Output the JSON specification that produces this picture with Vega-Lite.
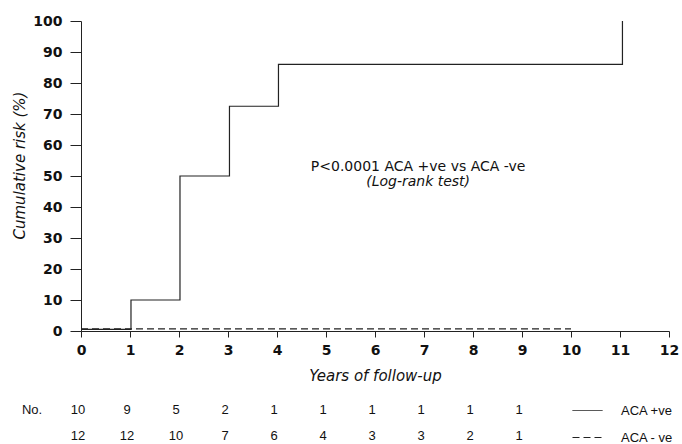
{
  "$schema": "https://vega.github.io/schema/vega-lite/v6.json",
  "width": 588,
  "height": 310,
  "autosize": {"type": "none"},
  "padding": {"left": 81, "top": 21, "right": 13, "bottom": 113},
  "background": "white",
  "config": {
    "view": {"stroke": null},
    "font": "DejaVu Sans",
    "axis": {
      "grid": false,
      "domainColor": "#222",
      "tickColor": "#222",
      "labelColor": "#111",
      "labelFont": "DejaVu Sans",
      "labelFontWeight": "bold",
      "labelFontSize": 14,
      "labelFlush": false,
      "labelOverlap": false,
      "titleFont": "DejaVu Sans",
      "titleFontStyle": "italic",
      "titleFontWeight": "normal",
      "titleFontSize": 15,
      "titleColor": "#111"
    }
  },
  "datasets": {
    "curves": [
      {"group": "ACA +ve", "years": 0, "risk": 0.5},
      {"group": "ACA +ve", "years": 1.02, "risk": 10},
      {"group": "ACA +ve", "years": 2.02, "risk": 50},
      {"group": "ACA +ve", "years": 3.03, "risk": 72.5},
      {"group": "ACA +ve", "years": 4.03, "risk": 86},
      {"group": "ACA +ve", "years": 11.05, "risk": 100},
      {"group": "ACA - ve", "years": 0, "risk": 0.7},
      {"group": "ACA - ve", "years": 10, "risk": 0.7}
    ],
    "atrisk": [
      {"group": "ACA +ve", "year": 0, "n": "10"},
      {"group": "ACA +ve", "year": 1, "n": "9"},
      {"group": "ACA +ve", "year": 2, "n": "5"},
      {"group": "ACA +ve", "year": 3, "n": "2"},
      {"group": "ACA +ve", "year": 4, "n": "1"},
      {"group": "ACA +ve", "year": 5, "n": "1"},
      {"group": "ACA +ve", "year": 6, "n": "1"},
      {"group": "ACA +ve", "year": 7, "n": "1"},
      {"group": "ACA +ve", "year": 8, "n": "1"},
      {"group": "ACA +ve", "year": 9, "n": "1"},
      {"group": "ACA - ve", "year": 0, "n": "12"},
      {"group": "ACA - ve", "year": 1, "n": "12"},
      {"group": "ACA - ve", "year": 2, "n": "10"},
      {"group": "ACA - ve", "year": 3, "n": "7"},
      {"group": "ACA - ve", "year": 4, "n": "6"},
      {"group": "ACA - ve", "year": 5, "n": "4"},
      {"group": "ACA - ve", "year": 6, "n": "3"},
      {"group": "ACA - ve", "year": 7, "n": "3"},
      {"group": "ACA - ve", "year": 8, "n": "2"},
      {"group": "ACA - ve", "year": 9, "n": "1"}
    ],
    "note": [{}]
  },
  "layer": [
    {
      "layer": [
        {
          "data": {"name": "curves"},
          "mark": {"type": "line", "interpolate": "step-after", "strokeWidth": 1.2, "color": "#222"},
          "encoding": {
            "x": {
              "field": "years", "type": "quantitative",
              "scale": {"domain": [0, 12], "nice": false},
              "axis": {
                "values": [0,1,2,3,4,5,6,7,8,9,10,11,12],
                "tickSize": 6,
                "labelPadding": 6,
                "title": "Years of follow-up",
                "titleY": 44,
                "titleBaseline": "middle"
              }
            },
            "y": {
              "field": "risk", "type": "quantitative",
              "scale": {"domain": [0, 100], "nice": false},
              "axis": {
                "values": [0,10,20,30,40,50,60,70,80,90,100],
                "tickSize": 11,
                "labelPadding": 8,
                "title": "Cumulative risk (%)",
                "titleX": -62,
                "titleY": 144,
                "titleAlign": "center",
                "titleBaseline": "middle"
              }
            },
            "strokeDash": {
              "field": "group", "type": "nominal",
              "scale": {"domain": ["ACA +ve", "ACA - ve"], "range": [[1, 0], [7, 4]]},
              "legend": {
                "orient": "none",
                "legendX": 491,
                "legendY": 374,
                "title": null,
                "symbolType": "stroke",
                "symbolSize": 900,
                "symbolStrokeWidth": 1,
                "symbolStrokeColor": "#222",
                "labelFont": "Liberation Sans",
                "labelFontSize": 13,
                "labelColor": "#111",
                "labelOffset": 18,
                "rowPadding": 4,
                "padding": 0
              }
            }
          }
        },
        {
          "data": {"name": "note"},
          "mark": {"type": "text", "font": "DejaVu Sans", "fontSize": 14, "color": "#111", "align": "center", "baseline": "middle", "text": "P<0.0001 ACA +ve vs ACA -ve"},
          "encoding": {
            "x": {"datum": 6.88, "type": "quantitative", "scale": {"domain": [0, 12], "nice": false},
              "axis": {"values": [0,1,2,3,4,5,6,7,8,9,10,11,12], "tickSize": 6, "labelPadding": 6, "title": "Years of follow-up", "titleY": 44, "titleBaseline": "middle"}},
            "y": {"datum": 53, "type": "quantitative", "scale": {"domain": [0, 100], "nice": false},
              "axis": {"values": [0,10,20,30,40,50,60,70,80,90,100], "tickSize": 11, "labelPadding": 8, "title": "Cumulative risk (%)", "titleX": -62, "titleY": 144, "titleAlign": "center", "titleBaseline": "middle"}}
          }
        },
        {
          "data": {"name": "note"},
          "mark": {"type": "text", "font": "DejaVu Sans", "fontSize": 14, "fontStyle": "italic", "color": "#111", "align": "center", "baseline": "middle", "text": "(Log-rank test)"},
          "encoding": {
            "x": {"datum": 6.88, "type": "quantitative", "scale": {"domain": [0, 12], "nice": false},
              "axis": {"values": [0,1,2,3,4,5,6,7,8,9,10,11,12], "tickSize": 6, "labelPadding": 6, "title": "Years of follow-up", "titleY": 44, "titleBaseline": "middle"}},
            "y": {"datum": 48, "type": "quantitative", "scale": {"domain": [0, 100], "nice": false},
              "axis": {"values": [0,10,20,30,40,50,60,70,80,90,100], "tickSize": 11, "labelPadding": 8, "title": "Cumulative risk (%)", "titleX": -62, "titleY": 144, "titleAlign": "center", "titleBaseline": "middle"}}
          }
        }
      ]
    },
    {
      "layer": [
        {
          "data": {"name": "atrisk"},
          "mark": {"type": "text", "font": "Liberation Sans", "fontSize": 13, "color": "#111", "align": "center", "baseline": "middle", "dx": -3},
          "encoding": {
            "x": {"field": "year", "type": "quantitative", "scale": {"domain": [0, 12], "nice": false}},
            "y": {"field": "group", "type": "nominal", "scale": {"type": "point", "domain": ["ACA +ve", "ACA - ve"], "range": [389, 415], "padding": 0}, "axis": null},
            "text": {"field": "n", "type": "nominal"}
          }
        },
        {
          "data": {"name": "note"},
          "mark": {"type": "text", "font": "Liberation Sans", "fontSize": 13, "color": "#111", "align": "center", "baseline": "middle", "text": "No."},
          "encoding": {
            "x": {"datum": -1, "type": "quantitative", "scale": {"domain": [0, 12], "nice": false}},
            "y": {"datum": "ACA +ve", "type": "nominal", "axis": null}
          }
        }
      ]
    }
  ],
  "resolve": {"scale": {"y": "independent"}}
}
